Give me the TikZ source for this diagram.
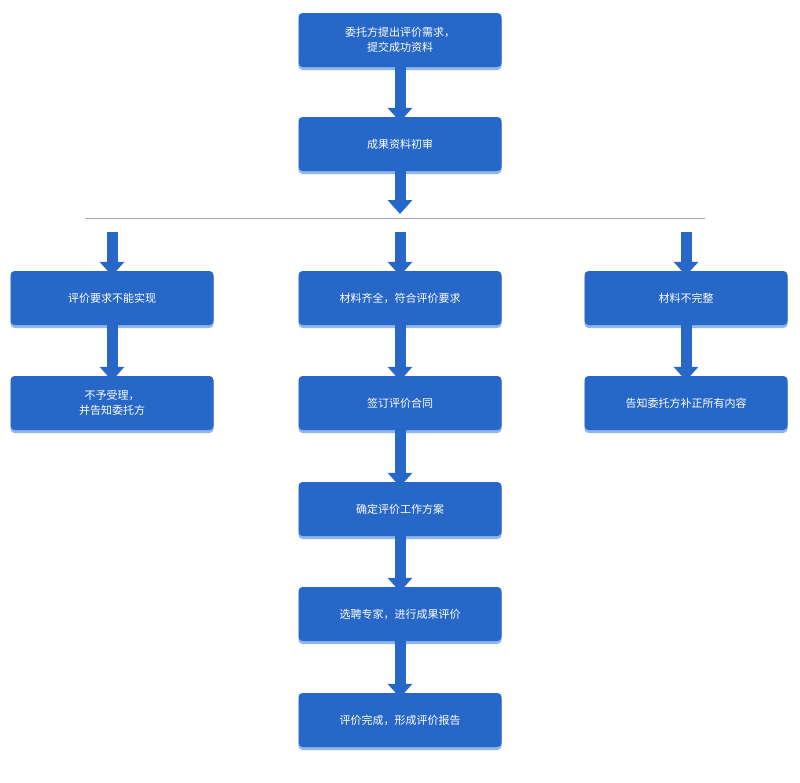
\documentclass[tikz,border=0pt]{standalone}
\usepackage{fontspec}
\newfontfamily\cjk{Noto Sans CJK SC}
\usetikzlibrary{arrows.meta,shadows}
\definecolor{boxblue}{HTML}{2767C8}
\definecolor{shadeblue}{HTML}{8FB6F0}
\tikzset{
  stagebox/.style={rectangle, rounded corners=4pt, fill=boxblue, text=white,
    minimum width=203pt, minimum height=54pt, align=center, font=\cjk\fontsize{11}{15}\selectfont,
    drop shadow={shadow xshift=0pt, shadow yshift=-3pt, fill=shadeblue, opacity=1}},
  blockarrow/.style={boxblue, line width=11pt, -{Triangle[width=24pt,length=14pt]}, shorten >=0pt}
}
\begin{document}
\begin{tikzpicture}[x=1pt,y=-1pt]
\useasboundingbox (0,0) rectangle (800,782);
\node[stagebox] (req) at (400,40) {委托方提出评价需求，\\提交成功资料};
\node[stagebox] (check) at (400,144) {成果资料初审};
\node[stagebox] (fail) at (112,298) {评价要求不能实现};
\node[stagebox] (ok) at (400,298) {材料齐全，符合评价要求};
\node[stagebox] (lack) at (686,298) {材料不完整};
\node[stagebox] (reject) at (112,403) {不予受理，\\并告知委托方};
\node[stagebox] (sign) at (400,403) {签订评价合同};
\node[stagebox] (notify) at (686,403) {告知委托方补正所有内容};
\node[stagebox] (plan) at (400,509) {确定评价工作方案};
\node[stagebox] (expert) at (400,614) {选聘专家，进行成果评价};
\node[stagebox] (report) at (400,720) {评价完成，形成评价报告};
\coordinate (lineL) at (85,218);
\coordinate (lineR) at (705,218);
\coordinate (splitL) at (112,232);
\coordinate (splitM) at (400,232);
\coordinate (splitR) at (686,232);
\draw[gray!70, line width=0.6pt] (lineL) -- (lineR);
\draw[blockarrow] ([yshift=6pt]req.south) -- ([yshift=-5pt]check.north);
\draw[blockarrow] ([yshift=6pt]check.south) -- ([yshift=4pt]lineL -| check.south);
\draw[blockarrow] (splitL) -- ([yshift=-5pt]fail.north);
\draw[blockarrow] (splitM) -- ([yshift=-5pt]ok.north);
\draw[blockarrow] (splitR) -- ([yshift=-5pt]lack.north);
\draw[blockarrow] ([yshift=6pt]fail.south) -- ([yshift=-5pt]reject.north);
\draw[blockarrow] ([yshift=6pt]ok.south) -- ([yshift=-5pt]sign.north);
\draw[blockarrow] ([yshift=6pt]lack.south) -- ([yshift=-5pt]notify.north);
\draw[blockarrow] ([yshift=6pt]sign.south) -- ([yshift=-5pt]plan.north);
\draw[blockarrow] ([yshift=6pt]plan.south) -- ([yshift=-5pt]expert.north);
\draw[blockarrow] ([yshift=6pt]expert.south) -- ([yshift=-5pt]report.north);
\end{tikzpicture}
\end{document}
